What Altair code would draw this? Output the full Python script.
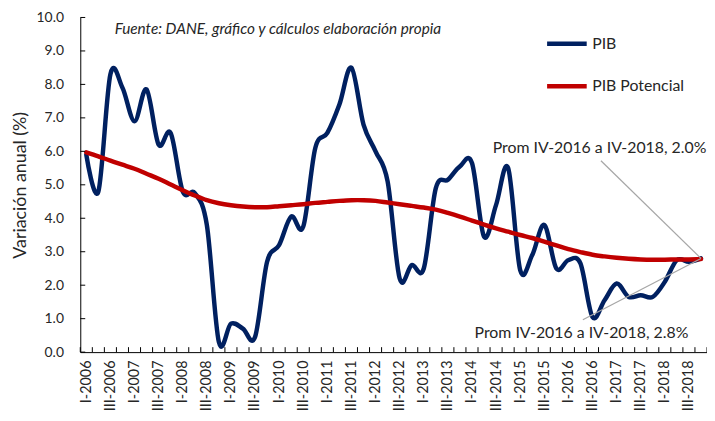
import json
import altair as alt
import pandas as pd

# ---- data ----
years = list(range(2006, 2019))
quarter_names = ["I", "II", "III", "IV"]
quarters = [f"{q}-{y}" for y in years for q in quarter_names]

pib = [5.9, 4.8, 8.3, 7.9, 6.9, 7.85, 6.2, 6.55, 4.8, 4.75,
       3.8, 0.3, 0.85, 0.7, 0.45, 2.7, 3.2, 4.05, 3.75, 6.1,
       6.55, 7.4, 8.5, 6.8, 6.0, 5.1, 2.2, 2.6, 2.5, 4.9,
       5.15, 5.55, 5.65, 3.45, 4.4, 5.5, 2.45, 2.9, 3.8, 2.5,
       2.75, 2.65, 1.05, 1.55, 2.05, 1.65, 1.7, 1.65, 2.1, 2.75,
       2.7, 2.8]

pib_potencial = [5.97, 5.85, 5.72, 5.60, 5.48, 5.33, 5.18, 5.01, 4.84, 4.68,
                 4.54, 4.45, 4.39, 4.35, 4.33, 4.33, 4.36, 4.39, 4.42, 4.46,
                 4.49, 4.52, 4.54, 4.54, 4.52, 4.47, 4.42, 4.37, 4.32, 4.26,
                 4.16, 4.05, 3.93, 3.81, 3.70, 3.60, 3.50, 3.41, 3.30, 3.19,
                 3.08, 2.99, 2.91, 2.86, 2.82, 2.79, 2.77, 2.76, 2.76, 2.77,
                 2.77, 2.78]

series_names = ["PIB", "PIB Potencial"]
series_colors = ["#002060", "#C00000"]

y_ticks = [0, 1, 2, 3, 4, 5, 6, 7, 8, 9, 10]
x_label_positions = list(range(0, len(quarters), 2))

# annotation segments (from x, from y) -> (to x, to y)
seg_x = [42.7, 41.2]
seg_y = [5.72, 0.97]
seg_x2 = [51.0, 51.0]
seg_y2 = [2.80, 2.80]

note_texts = ["Prom IV-2016 a IV-2018, 2.0%", "Prom IV-2016 a IV-2018, 2.8%"]
note_x = [51.45, 49.95]
note_y = [6.11, 0.58]

source_text = "Fuente: DANE, gráfico y cálculos elaboración propia"
source_x = 2.35
source_y = 9.66

# ---- tables ----
n = len(quarters)
idx = list(range(n))
lines_df = pd.DataFrame({
    "i": idx * 2,
    "v": pib + pib_potencial,
    "serie": [series_names[0]] * n + [series_names[1]] * n,
})
bounds_df = pd.DataFrame({"b": [k - 0.5 for k in range(n + 1)]})
yt_df = pd.DataFrame({"v": y_ticks})
seg_df = pd.DataFrame({"x": seg_x, "y": seg_y, "x2": seg_x2, "y2": seg_y2})
note_df = pd.DataFrame({"x": note_x, "y": note_y, "t": note_texts})
src_df = pd.DataFrame({"x": [source_x], "y": [source_y], "t": [source_text]})

W, H = 633, 338
FONT = "Lato"
TXT = "#262626"

xscale = alt.Scale(domain=[-0.5, n - 0.5], nice=False, zero=False)
yscale = alt.Scale(domain=[0, 10], nice=False, zero=False)
YTITLE = "Variación anual (%)"

label_expr = "%s[datum.value]" % json.dumps(quarters)

x_main = alt.X(
    "i:Q", scale=xscale, title=None,
    axis=alt.Axis(values=x_label_positions, tickCount=len(x_label_positions) + 5,
                  labelExpr=label_expr,
                  labelAngle=-90, ticks=False, tickSize=0, grid=False,
                  labelPadding=8, labelFont=FONT, labelFontSize=14.5,
                  labelColor=TXT, domainColor="#000000", domainWidth=1,
                  labelOverlap=False, labelFlush=False),
)
y_main = alt.Y(
    "v:Q", scale=yscale, title=YTITLE,
    axis=alt.Axis(values=y_ticks, tickCount=len(y_ticks) + 5, format=".1f",
                  ticks=False, tickSize=0,
                  grid=False, labelPadding=17, labelFont=FONT,
                  labelFontSize=14, labelColor=TXT, titleFont=FONT,
                  titleFontSize=18, titleFontWeight="normal",
                  titleColor=TXT, titlePadding=7, labelOverlap=False,
                  domainColor="#000000", domainWidth=1),
)

lines = alt.Chart(lines_df).mark_line(
    strokeWidth=4.5, interpolate="cardinal", strokeCap="round", strokeJoin="round"
).encode(
    x=x_main,
    y=y_main,
    color=alt.Color(
        "serie:N",
        scale=alt.Scale(domain=series_names, range=series_colors),
        legend=alt.Legend(
            title=None, orient="none", legendX=469, legendY=4,
            direction="vertical", symbolType="stroke", symbolSize=1600,
            symbolStrokeWidth=4.5, labelFont=FONT, labelFontSize=16,
            labelColor=TXT, labelOffset=3, rowPadding=11, padding=0,
        ),
    ),
    order=alt.Order("serie:N"),
)

x_ticks = alt.Chart(bounds_df).mark_rule(color="#000000", strokeWidth=1).encode(
    x=alt.X("b:Q", scale=xscale, title=None),
    y=alt.value(H),
    y2=alt.value(H - 5),
)

y_tick_marks = alt.Chart(yt_df).mark_rule(color="#000000", strokeWidth=1).encode(
    y=alt.Y("v:Q", scale=yscale, title=YTITLE),
    x=alt.value(0),
    x2=alt.value(5),
)

segs = alt.Chart(seg_df).mark_rule(color="#A6A6A6", strokeWidth=1.2).encode(
    x=alt.X("x:Q", scale=xscale, title=None),
    y=alt.Y("y:Q", scale=yscale, title=YTITLE),
    x2="x2:Q",
    y2="y2:Q",
)

notes = alt.Chart(note_df).mark_text(
    align="right", baseline="middle", font=FONT, fontSize=16, color=TXT
).encode(
    x=alt.X("x:Q", scale=xscale, title=None),
    y=alt.Y("y:Q", scale=yscale, title=YTITLE),
    text="t:N",
)

src = alt.Chart(src_df).mark_text(
    align="left", baseline="middle", font=FONT, fontSize=15.5,
    fontStyle="italic", color=TXT
).encode(
    x=alt.X("x:Q", scale=xscale, title=None),
    y=alt.Y("y:Q", scale=yscale, title=YTITLE),
    text="t:N",
)

chart = alt.layer(lines, x_ticks, y_tick_marks, segs, notes, src).properties(
    width=W,
    height=H,
    autosize=alt.AutoSizeParams(type="none"),
    padding={"left": 73, "top": 7.5, "right": 0, "bottom": 67.5},
    background="#ffffff",
).configure_view(
    stroke="transparent"
).configure_axis(
    labelOverlap=False
)

chart.save("out.html", embed_options={"renderer": "svg", "actions": False})
